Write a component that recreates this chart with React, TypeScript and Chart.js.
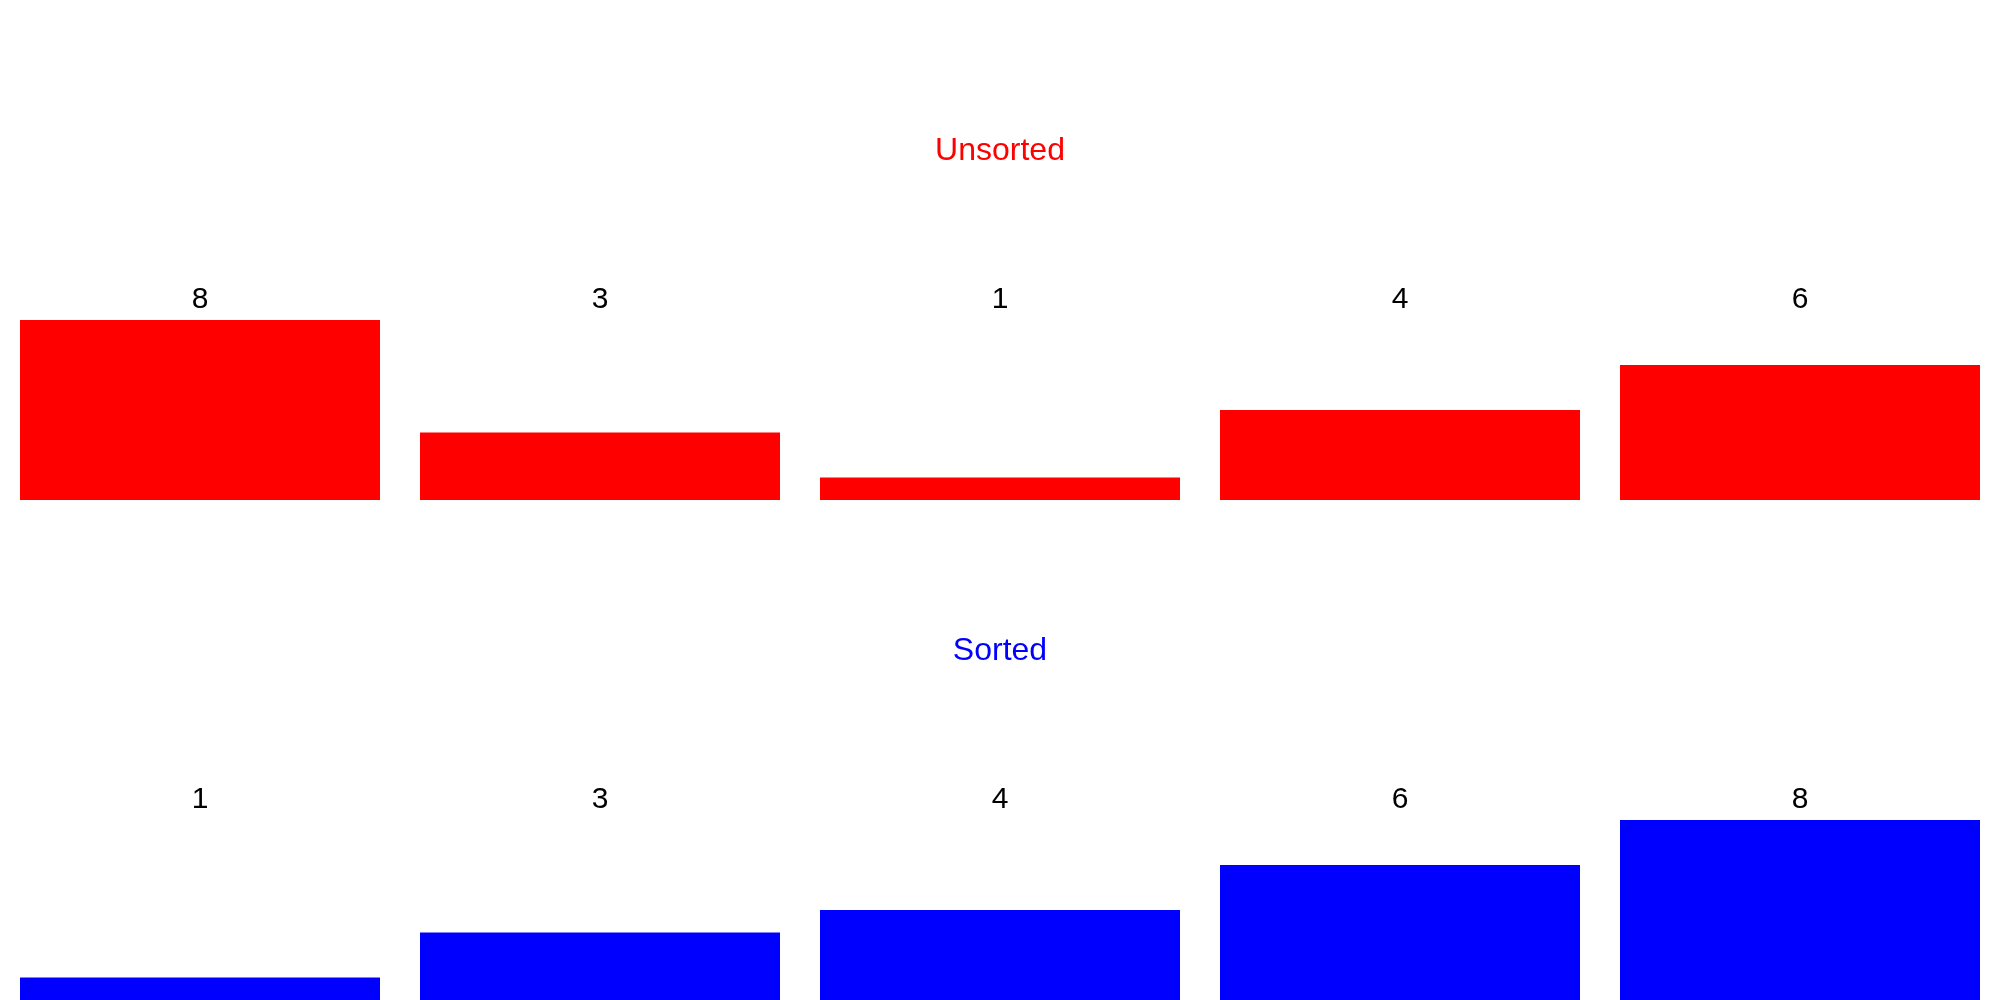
import React, { useEffect, useRef } from "react";
import { Chart, registerables } from "chart.js";

Chart.register(...registerables);

const unsortedLabels = ["8", "3", "1", "4", "6"];
const unsortedValues = [8, 3, 1, 4, 6];
const sortedLabels = ["1", "3", "4", "6", "8"];
const sortedValues = [1, 3, 4, 6, 8];
const yMin = 0;
const yMax = 8;

const FONT = "'Liberation Sans', Arial, Helvetica, sans-serif";

function Panel({ title, color, labels, values }: { title: string; color: string; labels: string[]; values: number[] }) {
  const ref = useRef<HTMLCanvasElement | null>(null);
  useEffect(() => {
    if (!ref.current) return;
    const chart = new Chart(ref.current, {
      type: "bar",
      data: {
        labels,
        datasets: [
          {
            data: values,
            backgroundColor: color,
            borderWidth: 0,
            barPercentage: 0.9,
            categoryPercentage: 1.0,
          },
        ],
      },
      options: {
        responsive: false,
        animation: false,
        events: [],
        layout: { padding: 0 },
        plugins: {
          legend: { display: false },
          tooltip: { enabled: false },
          title: {
            display: true,
            text: title,
            color,
            font: { family: FONT, size: 32, weight: "normal" },
            padding: { top: 132, bottom: 109.6 },
          },
        },
        scales: {
          x: {
            position: "top",
            grid: { display: false, drawTicks: false },
            border: { display: false },
            ticks: {
              color: "#000000",
              font: { family: FONT, size: 30 },
              padding: 2,
              maxRotation: 0,
            },
          },
          y: {
            display: false,
            min: yMin,
            max: yMax,
          },
        },
      },
    });
    return () => chart.destroy();
  }, [title, color, labels, values]);
  return <canvas ref={ref} width={2000} height={500} style={{ display: "block", width: 2000, height: 500 }} />;
}

export default function App() {
  return (
    <div style={{ position: "absolute", left: 0, top: 0, width: 2000, height: 1000, background: "#ffffff" }}>
      <Panel title="Unsorted" color="#ff0000" labels={unsortedLabels} values={unsortedValues} />
      <Panel title="Sorted" color="#0000ff" labels={sortedLabels} values={sortedValues} />
    </div>
  );
}
